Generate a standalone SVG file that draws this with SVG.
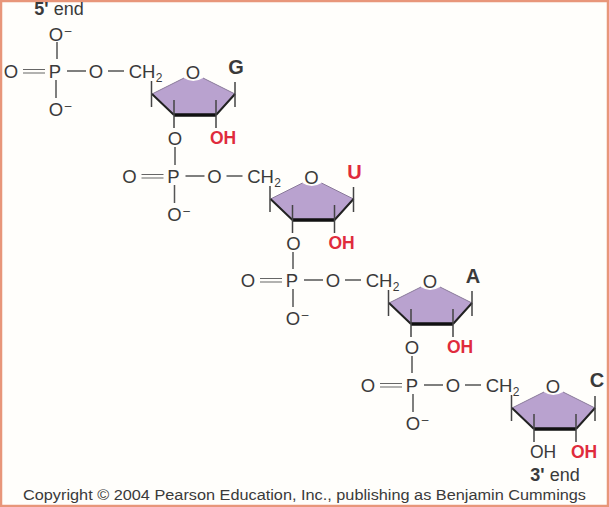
<svg xmlns="http://www.w3.org/2000/svg" width="609" height="507" viewBox="0 0 609 507">
<style>
text{font-family:"Liberation Sans",Arial,sans-serif;fill:#3a3a3a}
.a{font-size:18.500px;text-anchor:middle}
.s{font-size:12px;text-anchor:middle}
.b{font-weight:bold}
.r{font-size:17.500px;font-weight:bold;fill:#e02b3c;text-anchor:middle}
.g{font-size:20px;font-weight:bold;text-anchor:middle}
.e{font-size:18px;text-anchor:middle}
.l{stroke:#555;stroke-width:1.500;fill:none}
.u{stroke:#8a7a9a;stroke-width:1;fill:none}
.d{stroke:#222;stroke-width:2;fill:none}
.t{stroke:#444;stroke-width:1.500;fill:none}
.h{stroke:#111;stroke-width:3.500;fill:none}
.f{fill:#b9a2cf;stroke:none}
.w{stroke:#666;stroke-width:1.100;fill:none}
</style>
<defs>
<g id="phosphate">
<text class="a" x="11" y="77.500">O</text>
<path class="w" d="M23 69.500H45M23 73H45"/>
<text class="a" x="55" y="77.500">P</text>
<text class="a" x="96" y="77.500">O</text>
<text class="a" x="56" y="115.500">O</text><text class="s" x="68" y="110">–</text>
<path class="l" d="M56 80V98M67 71H86M108 71H124"/>
<text class="a" x="142" y="77.500">CH</text><text class="s" x="159" y="82">2</text>
</g>
<g id="ring">
<path class="f" d="M152 94L184 78Q193 84 203 78L235 94L216 115H174Z"/>
<path class="u" d="M152 94L184 78M203 78L235 94"/>
<path class="d" d="M152 94L174 115M235 94L216 115"/>
<path class="h" d="M174 115H216"/>
<path class="t" d="M151.500 81V107M235 82V107M174 100V128M216 100V128"/>
<text class="a" x="193" y="79">O</text>
</g>
</defs>
<rect x="1" y="1" width="607" height="505" fill="#fffefb" stroke="#e8967a" stroke-width="2.500"/>
<g id="connectors">
<path class="l" d="M57 42V59M175 147V165M293 252V269M412 356V373"/>
</g>
<g id="end-5"><text class="e" x="59" y="15"><tspan class="b">5'</tspan> end</text></g>
<g id="nucleotide-g">
<text class="a" x="56" y="40.500">O</text><text class="s" x="68" y="35">–</text>
<use href="#phosphate"/><use href="#ring"/>
<text class="g" x="236" y="74">G</text>
<text class="a" x="175" y="144.500">O</text>
<text class="r" x="223" y="144">OH</text>
</g>
<g id="nucleotide-u" transform="translate(118.500 105)">
<use href="#phosphate"/><use href="#ring"/>
<text class="g" x="236" y="74" style="fill:#e02b3c">U</text>
<text class="a" x="175" y="144.500">O</text>
<text class="r" x="223" y="144">OH</text>
</g>
<g id="nucleotide-a" transform="translate(237 209)">
<use href="#phosphate"/><use href="#ring"/>
<text class="g" x="236" y="74">A</text>
<text class="a" x="175" y="144.500">O</text>
<text class="r" x="223" y="144">OH</text>
</g>
<g id="nucleotide-c">
<use href="#phosphate" transform="translate(357 314)"/>
<g transform="translate(360 314)"><use href="#ring"/>
<text class="g" x="237" y="73">C</text>
<text class="a" x="183" y="144" style="font-size:17.500px">OH</text>
<text class="r" x="224" y="144">OH</text>
</g>
</g>
<g id="end-3"><text class="e" x="555" y="481"><tspan class="b">3'</tspan> end</text></g>
<g id="copyright"><text x="23" y="500" style="font-size:14.900px" textLength="563" lengthAdjust="spacingAndGlyphs">Copyright © 2004 Pearson Education, Inc., publishing as Benjamin Cummings</text></g>
</svg>
